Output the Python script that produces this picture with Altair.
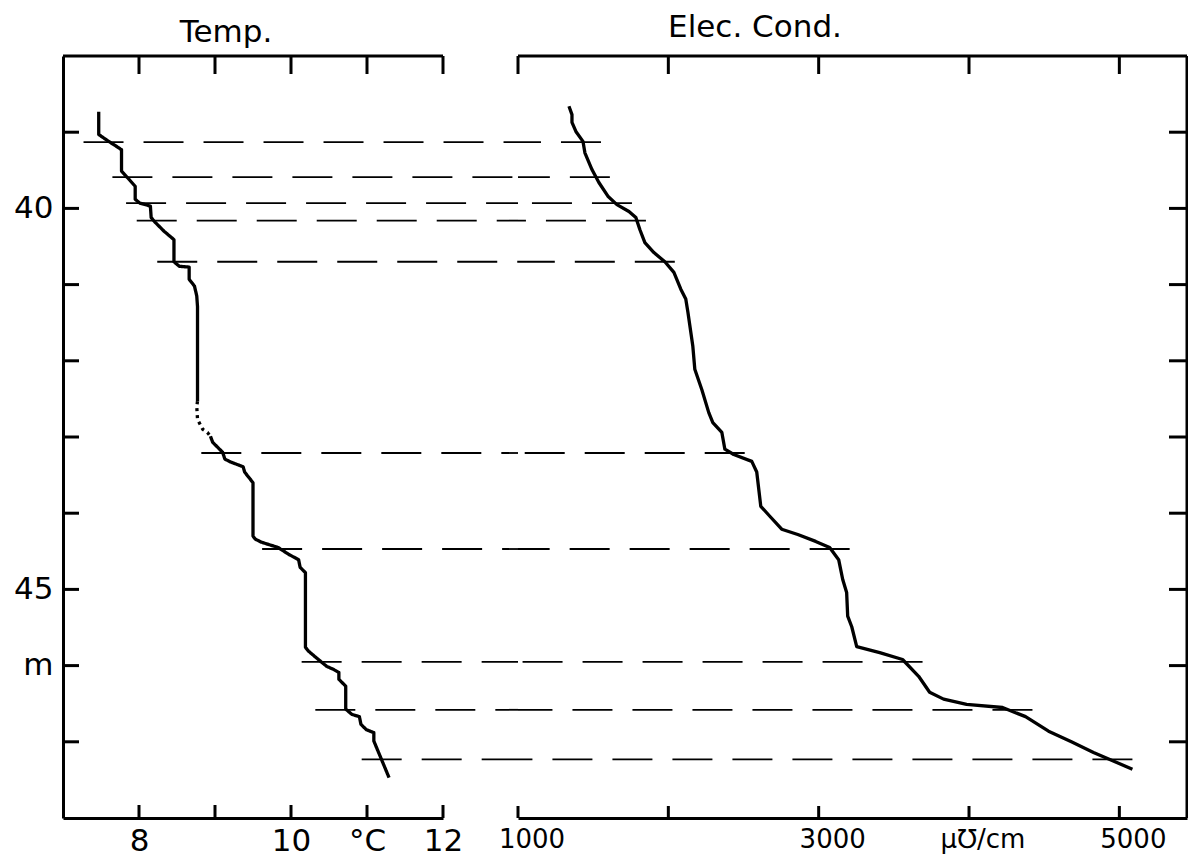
import altair as alt
import pandas as pd

# ---------------- data ----------------
# Temperature profile (°C) vs depth (m): upper solid part, dotted part, lower solid part
t1_depth = [38.73, 39.03, 39.12, 39.19, 39.23, 39.51, 39.62, 39.71, 39.88, 39.93,
            39.97, 40.12, 40.18, 40.30, 40.41, 40.70, 40.76, 40.77, 40.93, 41.02,
            41.15, 41.29, 42.53]
t1_temp = [7.47, 7.47, 7.60, 7.71, 7.77, 7.77, 7.87, 7.95, 7.95, 8.01,
           8.15, 8.16, 8.21, 8.33, 8.46, 8.46, 8.53, 8.66, 8.66, 8.73,
           8.76, 8.77, 8.77]
t2_depth = [42.53, 42.60, 42.77, 42.90, 42.94, 42.99]
t2_temp = [8.77, 8.76, 8.77, 8.84, 8.90, 8.94]
t3_depth = [42.99, 43.07, 43.14, 43.20, 43.29, 43.33, 43.39, 43.46, 43.60, 44.30,
            44.34, 44.38, 44.45, 44.54, 44.61, 44.71, 44.78, 45.76, 45.81, 45.92,
            46.01, 46.05, 46.09, 46.18, 46.27, 46.57, 46.64, 46.67, 46.77, 46.84,
            46.88, 46.99, 47.23, 47.47]
t3_temp = [8.94, 8.97, 9.04, 9.10, 9.13, 9.21, 9.37, 9.39, 9.50, 9.50,
           9.53, 9.61, 9.83, 9.97, 10.10, 10.12, 10.19, 10.19, 10.23, 10.36,
           10.47, 10.56, 10.63, 10.63, 10.72, 10.72, 10.80, 10.90, 10.92, 10.99,
           11.09, 11.09, 11.19, 11.29]

# Electrical conductivity profile (µ℧/cm) vs depth (m)
c_depth = [38.66, 38.77, 38.87, 38.99, 39.12, 39.27, 39.49, 39.66, 39.84, 39.95,
           40.04, 40.12, 40.28, 40.45, 40.58, 40.70, 40.84, 41.06, 41.19, 41.36,
           41.81, 42.11, 42.38, 42.68, 42.81, 42.94, 43.16, 43.23, 43.32, 43.46,
           43.91, 44.04, 44.21, 44.28, 44.37, 44.45, 44.61, 44.87, 45.04, 45.35,
           45.49, 45.75, 45.83, 45.92, 46.14, 46.35, 46.44, 46.51, 46.55, 46.67,
           46.86, 47.00, 47.14, 47.36]
c_val = [1339, 1359, 1359, 1385, 1432, 1445, 1492, 1538, 1598, 1658,
         1738, 1784, 1811, 1844, 1904, 1977, 2037, 2083, 2116, 2130,
         2163, 2176, 2223, 2269, 2296, 2356, 2376, 2435, 2555, 2588,
         2615, 2675, 2754, 2861, 2980, 3073, 3133, 3160, 3186, 3193,
         3220, 3253, 3406, 3558, 3665, 3738, 3831, 3984, 4223, 4376,
         4529, 4681, 4828, 5087]

# Correlation (dashed) lines: depth, start on temperature side, end on conductivity side
d_depth = [39.13, 39.59, 39.93, 40.16, 40.70, 43.21, 44.47, 45.95, 46.58, 47.23]
d_tstart = [7.27, 7.65, 7.83, 7.97, 8.24, 8.82, 9.62, 10.14, 10.32, 10.93]
d_cend = [1552, 1611, 1758, 1851, 2043, 2508, 3206, 3691, 4422, 5087]

# Axis ticks and labels
temp_ticks = [8, 9, 10, 11, 12]
temp_labels = [8, 10, 11, 12]
cond_ticks = [1000, 2000, 3000, 4000, 5000]
cond_label_vals = [1000, 3000, 4000, 5000]
cond_label_text = ["1000", "3000", "µ℧/cm", "5000"]
depth_ticks = [39, 40, 41, 42, 43, 44, 45, 46, 47]
depth_labels = [40, 45, 46]
temp_domain = [7, 12]
cond_domain = [1000, 5450]
depth_domain = [38, 48]

# ---------------- layout ----------------
W, H = 1124, 762
T_RANGE = [0, 380]
C_RANGE = [455, W]
FONT = "DejaVu Sans"
FRAME_W = 3
CURVE_W = 3.3

tscale = alt.Scale(domain=temp_domain, range=T_RANGE, nice=False, zero=False)
cscale = alt.Scale(domain=cond_domain, range=C_RANGE, nice=False, zero=False)
yscale = alt.Scale(domain=depth_domain, reverse=True, nice=False, zero=False)

yaxis = alt.Axis(values=depth_labels,
                 labelExpr="datum.value == 46 ? 'm' : datum.label",
                 ticks=False, domain=True, domainColor="black", domainWidth=FRAME_W,
                 labelFont=FONT, labelFontSize=31, labelColor="black",
                 labelPadding=10, title=None, grid=False, orient="left")

taxis = alt.Axis(values=temp_labels, orient="bottom",
                 labelExpr="datum.value == 11 ? '°C' : datum.label",
                 ticks=False, domain=True, domainColor="black", domainWidth=FRAME_W,
                 labelFont=FONT, labelFontSize=31, labelColor="black",
                 labelPadding=8, labelFlush=False, labelOverlap=False,
                 title=None, grid=False)

caxis = alt.Axis(orient="bottom", labels=False, ticks=False, domain=True,
                 domainColor="black", domainWidth=FRAME_W, title=None, grid=False)


def Y(field):
    return alt.Y(field, type="quantitative", scale=yscale, axis=yaxis)


# ---------------- data frames ----------------
rows = []
for seg, ds, ts in (("s1", t1_depth, t1_temp), ("dot", t2_depth, t2_temp), ("s2", t3_depth, t3_temp)):
    for i, (d, t) in enumerate(zip(ds, ts)):
        rows.append({"seg": seg, "idx": i, "depth": d, "temp": t})
temp_df = pd.DataFrame(rows)
cond_df = pd.DataFrame({"depth": c_depth, "cond": c_val, "idx": list(range(len(c_val)))})
dash_df = pd.DataFrame({"depth": d_depth, "tstart": d_tstart, "cend": d_cend})
tt_df = pd.DataFrame({"v": temp_ticks})
ct_df = pd.DataFrame({"v": cond_ticks})
cl_df = pd.DataFrame({"v": cond_label_vals, "t": cond_label_text})
dt_df = pd.DataFrame({"d": depth_ticks})
tframe_df = pd.DataFrame({"a": [temp_domain[0]], "b": [temp_domain[1]]})
cframe_df = pd.DataFrame({"a": [cond_domain[0]], "b": [cond_domain[1]]})
one_df = pd.DataFrame({"k": [0]})

# ---------------- layers ----------------
temp_line = alt.Chart(temp_df).mark_line(color="black", strokeWidth=CURVE_W, strokeJoin="round").encode(
    x=alt.X("temp:Q", scale=tscale, axis=taxis),
    y=Y("depth"),
    detail="seg:N",
    order="idx:Q",
    strokeDash=alt.StrokeDash("seg:N", legend=None,
                              scale=alt.Scale(domain=["s1", "dot", "s2"],
                                              range=[[1, 0], [3, 4], [1, 0]])),
)

cond_line = alt.Chart(cond_df).mark_line(color="black", strokeWidth=CURVE_W, strokeJoin="round").encode(
    x=alt.X("cond:Q", scale=cscale, axis=caxis),
    y=Y("depth"),
    order="idx:Q",
)

dash_t = alt.Chart(dash_df).mark_rule(color="black", strokeWidth=1.8, strokeDash=[40, 20]).encode(
    x=alt.X("tstart:Q", scale=tscale, axis=None),
    x2=alt.value(C_RANGE[0]),
    y=Y("depth"),
)
dash_c = alt.Chart(dash_df).mark_rule(color="black", strokeWidth=1.8, strokeDash=[40, 20]).encode(
    x=alt.X("cend:Q", scale=cscale, axis=None),
    x2=alt.value(C_RANGE[0]),
    y=Y("depth"),
)

t_top = alt.Chart(tframe_df).mark_rule(color="black", strokeWidth=FRAME_W).encode(
    x=alt.X("a:Q", scale=tscale, axis=None), x2="b:Q", y=alt.value(0))
c_top = alt.Chart(cframe_df).mark_rule(color="black", strokeWidth=FRAME_W).encode(
    x=alt.X("a:Q", scale=cscale, axis=None), x2="b:Q", y=alt.value(0))

t_ticks_top = alt.Chart(tt_df).mark_rule(color="black", strokeWidth=3).encode(
    x=alt.X("v:Q", scale=tscale, axis=None), y=alt.value(0), y2=alt.value(18))
t_ticks_bot = alt.Chart(tt_df).mark_rule(color="black", strokeWidth=3).encode(
    x=alt.X("v:Q", scale=tscale, axis=None), y=alt.value(H), y2=alt.value(H - 13))
c_ticks_top = alt.Chart(ct_df).mark_rule(color="black", strokeWidth=3).encode(
    x=alt.X("v:Q", scale=cscale, axis=None), y=alt.value(0), y2=alt.value(18))
c_ticks_bot = alt.Chart(ct_df).mark_rule(color="black", strokeWidth=3).encode(
    x=alt.X("v:Q", scale=cscale, axis=None), y=alt.value(H), y2=alt.value(H - 12))

c_labels = alt.Chart(cl_df).mark_text(
    font=FONT, fontSize=26, color="black", align="center", baseline="alphabetic", dx=14
).encode(x=alt.X("v:Q", scale=cscale, axis=None), y=alt.value(H + 30), text="t:N")

left_ticks = alt.Chart(dt_df).mark_rule(color="black", strokeWidth=3).encode(
    x=alt.value(0), x2=alt.value(16), y=Y("d"))
right_ticks = alt.Chart(dt_df).mark_rule(color="black", strokeWidth=3).encode(
    x=alt.value(W - 18), x2=alt.value(W), y=Y("d"))
right_border = alt.Chart(one_df).mark_rule(color="black", strokeWidth=FRAME_W).encode(
    x=alt.value(W), y=alt.value(0), y2=alt.value(H))

title_t = alt.Chart(pd.DataFrame({"t": ["Temp."]})).mark_text(
    font=FONT, fontSize=31, color="black", align="center", baseline="alphabetic"
).encode(text="t:N", x=alt.value(163), y=alt.value(-14))
title_c = alt.Chart(pd.DataFrame({"t": ["Elec. Cond."]})).mark_text(
    font=FONT, fontSize=31, color="black", align="center", baseline="alphabetic"
).encode(text="t:N", x=alt.value(692), y=alt.value(-19))

chart = alt.layer(
    temp_line, cond_line, dash_t, dash_c, t_top, c_top,
    t_ticks_top, t_ticks_bot, c_ticks_top, c_ticks_bot, c_labels,
    left_ticks, right_ticks, right_border, title_t, title_c,
).resolve_scale(x="independent").properties(
    width=W, height=H,
    padding={"left": 55, "top": 48, "right": 1, "bottom": 40},
    autosize=alt.AutoSizeParams(type="none"),
    background="white",
).configure_view(stroke=None)

chart.save("out.html", embed_options={"renderer": "svg", "actions": False})
